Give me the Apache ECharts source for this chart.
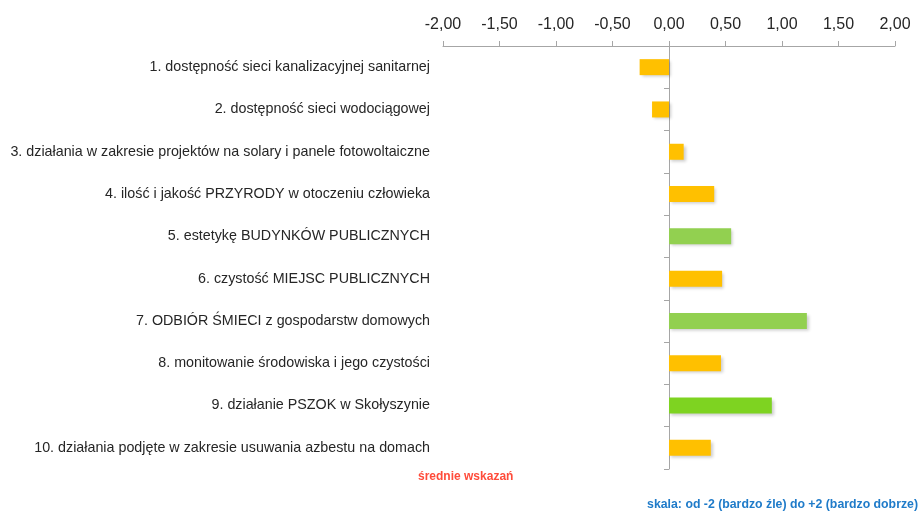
<!DOCTYPE html>
<html>
<head>
<meta charset="utf-8">
<script src="https://cdn.jsdelivr.net/npm/echarts@6/dist/echarts.min.js"></script>
<style>
  html, body { margin: 0; padding: 0; background: #fff; }
  #chart { width: 920px; height: 514px; }
</style>
</head>
<body>
<div id="chart"></div>
<script>
const categories = [
  "1. dostępność sieci kanalizacyjnej sanitarnej",
  "2. dostępność sieci wodociągowej",
  "3. działania w zakresie projektów na solary i panele fotowoltaiczne",
  "4. ilość i jakość PRZYRODY w otoczeniu człowieka",
  "5. estetykę BUDYNKÓW PUBLICZNYCH",
  "6. czystość MIEJSC PUBLICZNYCH",
  "7. ODBIÓR ŚMIECI z gospodarstw domowych",
  "8. monitowanie środowiska i jego czystości",
  "9. działanie PSZOK w Skołyszynie",
  "10. działania podjęte w zakresie usuwania azbestu na domach",
];
const values = [-0.26, -0.15, 0.13, 0.40, 0.55, 0.47, 1.22, 0.46, 0.91, 0.37];
const barColors = [
  "#FFC000", "#FFC000", "#FFC000", "#FFC000", "#92D050",
  "#FFC000", "#92D050", "#FFC000", "#7ED321", "#FFC000",
];

const chart = echarts.init(document.getElementById("chart"));
const font = "Liberation Sans, Arial, sans-serif";

chart.setOption({
  animation: false,
  grid: { left: 443, right: 25, top: 46, bottom: 45, containLabel: false, outerBoundsMode: "none" },
  xAxis: {
    type: "value",
    position: "top",
    min: -2,
    max: 2,
    interval: 0.5,
    splitLine: { show: false },
    axisLine: { show: true, lineStyle: { color: "#A6A6A6" } },
    axisTick: { show: true, length: 5, lineStyle: { color: "#A6A6A6" } },
    axisLabel: {
      margin: 13,
      fontSize: 16,
      fontFamily: font,
      color: "#262626",
      formatter: (v) => v.toFixed(2).replace(".", ","),
    },
  },
  yAxis: {
    type: "category",
    inverse: true,
    data: categories,
    axisLine: { show: true, onZero: true, lineStyle: { color: "#A6A6A6" } },
    axisTick: { show: true, length: 5, lineStyle: { color: "#A6A6A6" } },
    axisLabel: {
      margin: 13,
      fontSize: 14.3,
      fontFamily: font,
      color: "#262626",
    },
  },
  series: [
    {
      type: "bar",
      barWidth: 16,
      data: values.map((v, i) => ({
        value: v,
        itemStyle: { color: barColors[i] },
      })),
      itemStyle: {
        shadowBlur: 3,
        shadowOffsetX: 2,
        shadowOffsetY: 2,
        shadowColor: "rgba(0,0,0,0.2)",
      },
    },
  ],
  graphic: [
    {
      type: "text",
      left: 418,
      top: 471,
      style: {
        text: "średnie wskazań",
        fill: "#FF4B3A",
        font: "bold 12px " + font,
      },
    },
    {
      type: "text",
      right: 2,
      top: 499,
      style: {
        text: "skala: od -2 (bardzo źle) do +2 (bardzo dobrze)",
        fill: "#1F7BC9",
        font: "bold 12.3px " + font,
      },
    },
  ],
});
</script>
</body>
</html>
